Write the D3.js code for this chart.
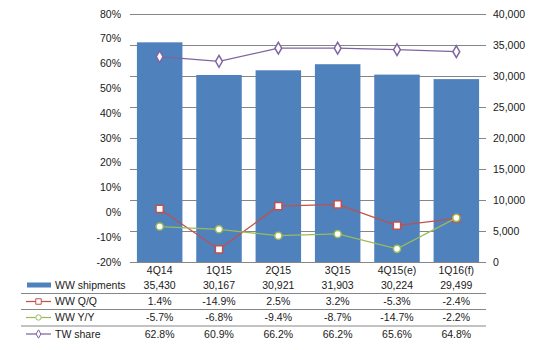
<!DOCTYPE html>
<html>
<head>
<meta charset="utf-8">
<script src="https://cdn.jsdelivr.net/npm/d3@7"></script>
<style>
html,body{margin:0;padding:0;background:#fff;}
svg{display:block;font-family:"Liberation Sans",Arial,sans-serif;}
</style>
</head>
<body>
<svg id="chart" width="539" height="350"></svg>
<script>
const categories = ["4Q14","1Q15","2Q15","3Q15","4Q15(e)","1Q16(f)"];
const shipments = [35430,30167,30921,31903,30224,29499];
const qoq = [1.4,-14.9,2.5,3.2,-5.3,-2.4];
const yoy = [-5.7,-6.8,-9.4,-8.7,-14.7,-2.2];
const twShare = [62.8,60.9,66.2,66.2,65.6,64.8];
const leftTicks = [-20,-10,0,10,20,30,40,50,60,70,80];
const rightTicks = [0,5000,10000,15000,20000,25000,30000,35000,40000];
const seriesNames = ["WW shipments","WW Q/Q","WW Y/Y","TW share"];

const svg = d3.select("#chart");
const X0 = 130, X1 = 486, Y0 = 262, Y1 = 14;
const textColor = "#1a1a1a", gridColor = "#868686";
const barColor = "#4F81BD", red = "#C0504D", green = "#9BBB59", purple = "#8064A2";
const fs = "10.5px";

const x = d3.scaleBand().domain(categories).range([X0, X1]).paddingInner(0.233).paddingOuter(0.1165);
const yR = d3.scaleLinear().domain([0, 40000]).range([Y0, Y1]);
const yL = d3.scaleLinear().domain([-20, 80]).range([Y0, Y1]);
const cx = c => x(c) + x.bandwidth() / 2;

// gridlines (right axis major units)
svg.append("g").selectAll("line").data(rightTicks).join("line")
  .attr("x1", X0).attr("x2", X1)
  .attr("y1", d => Math.round(yR(d)) + 0.5).attr("y2", d => Math.round(yR(d)) + 0.5)
  .attr("stroke", gridColor).attr("stroke-width", 1);

// bars
svg.append("g").selectAll("rect").data(categories).join("rect")
  .attr("x", d => x(d)).attr("width", x.bandwidth())
  .attr("y", (d, i) => yR(shipments[i])).attr("height", (d, i) => Y0 - yR(shipments[i]))
  .attr("fill", barColor);

// bottom axis line
svg.append("line").attr("x1", X0).attr("x2", X1).attr("y1", Y0 + 0.5).attr("y2", Y0 + 0.5)
  .attr("stroke", gridColor);

// left axis labels
svg.append("g").selectAll("text").data(leftTicks).join("text")
  .attr("x", 121).attr("y", d => yL(d)).attr("dy", "0.35em")
  .attr("text-anchor", "end").attr("font-size", fs).attr("fill", textColor)
  .text(d => d + "%");

// right axis labels
const fmt = d3.format(",");
svg.append("g").selectAll("text").data(rightTicks).join("text")
  .attr("x", 493).attr("y", d => yR(d)).attr("dy", "0.35em")
  .attr("text-anchor", "start").attr("font-size", fs).attr("fill", textColor)
  .text(d => fmt(d));

// lines + markers
function drawSeries(vals, color, shape, size) {
  const line = d3.line().x((d, i) => cx(categories[i])).y(d => yL(d));
  svg.append("path").datum(vals).attr("d", line)
    .attr("fill", "none").attr("stroke", color).attr("stroke-width", 1.25);
  svg.append("g").selectAll("path").data(vals).join("path")
    .attr("transform", (d, i) => `translate(${cx(categories[i])},${yL(d)})`)
    .attr("d", d3.symbol().type(shape).size(size))
    .attr("fill", "#fff").attr("stroke", color).attr("stroke-width", 1.5);
}
drawSeries(qoq, red, d3.symbolSquare, 52);
drawSeries(yoy, green, d3.symbolCircle, 40);
drawSeries(twShare, purple, d3.symbolDiamond, 40);

// data table
const rowY = [285, 301.5, 317.5, 334];
const sepY = [293.5, 309.5, 326];
svg.append("g").selectAll("text").data(categories).join("text")
  .attr("x", d => cx(d)).attr("y", 270).attr("dy", "0.35em")
  .attr("text-anchor", "middle").attr("font-size", fs).attr("fill", textColor)
  .text(d => d);

svg.append("g").selectAll("line").data(sepY).join("line")
  .attr("x1", 21).attr("x2", X1).attr("y1", d => d).attr("y2", d => d)
  .attr("stroke", gridColor);

const rows = [
  shipments.map(v => fmt(v)),
  qoq.map(v => v.toFixed(1) + "%"),
  yoy.map(v => v.toFixed(1) + "%"),
  twShare.map(v => v.toFixed(1) + "%")
];
rows.forEach((r, ri) => {
  svg.append("g").selectAll("text").data(r).join("text")
    .attr("x", (d, i) => cx(categories[i])).attr("y", rowY[ri]).attr("dy", "0.35em")
    .attr("text-anchor", "middle").attr("font-size", fs).attr("fill", textColor)
    .text(d => d);
  svg.append("text").attr("x", 55).attr("y", rowY[ri]).attr("dy", "0.35em")
    .attr("font-size", fs).attr("fill", textColor).text(seriesNames[ri]);
});

// legend keys
svg.append("rect").attr("x", 27).attr("y", rowY[0] - 2.5).attr("width", 24).attr("height", 5).attr("fill", barColor);
const keyDefs = [[red, d3.symbolSquare, 30], [green, d3.symbolCircle, 22], [purple, d3.symbolDiamond, 20]];
keyDefs.forEach((k, i) => {
  const yy = rowY[i + 1];
  svg.append("line").attr("x1", 26).attr("x2", 51).attr("y1", yy).attr("y2", yy)
    .attr("stroke", k[0]).attr("stroke-width", 1.25);
  svg.append("path").attr("transform", `translate(38.5,${yy})`)
    .attr("d", d3.symbol().type(k[1]).size(k[2]))
    .attr("fill", "#fff").attr("stroke", k[0]).attr("stroke-width", 1);
});
</script>
</body>
</html>
